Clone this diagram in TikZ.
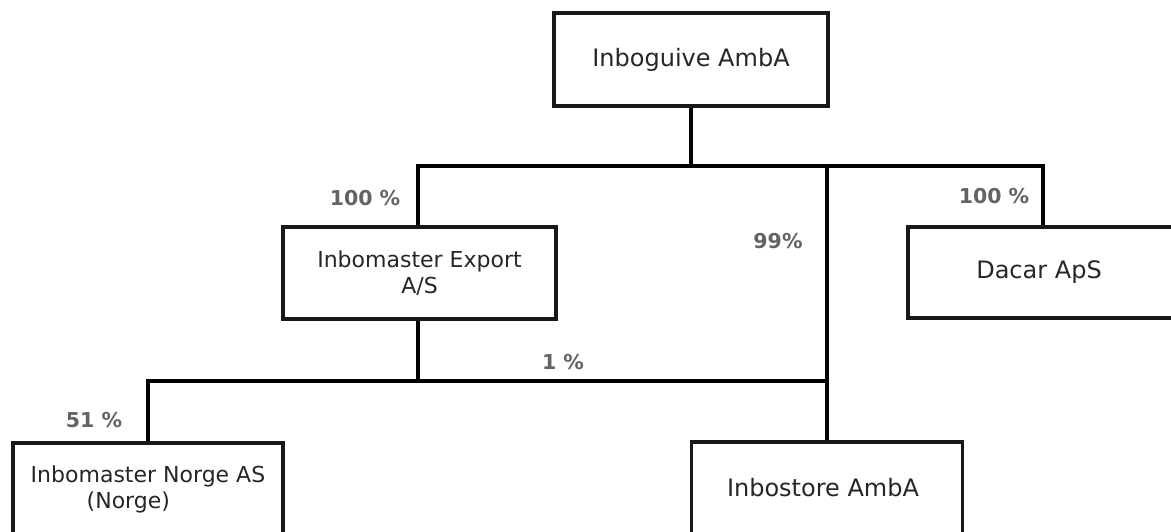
\documentclass[tikz,border=0pt]{standalone}
\usepackage{fontspec}
\setmainfont{DejaVu Sans}
\newfontfamily\lblfont{DejaVu Sans}
\definecolor{boxtext}{HTML}{262626}
\definecolor{lbltext}{HTML}{636363}
\begin{document}
\begin{tikzpicture}[x=1pt,y=-1pt,
  line width=3.2pt,
  orgbox/.style={draw=black!90, line width=3.2pt, rectangle, minimum width=#1, inner sep=0pt, text=boxtext, align=center},
  orgbox/.default=273pt,
  pct/.style={text=lbltext, font=\lblfont\bfseries\fontsize{20.5}{24}\selectfont, inner sep=0pt},
  big/.style={font=\fontsize{24}{28}\selectfont},
  small/.style={font=\fontsize{22}{26}\selectfont}]
\useasboundingbox (0,0) rectangle (1171,531);

\node[orgbox=274pt, minimum height=93pt, big] (top) at (691,59.5) {Inboguive AmbA};
\node[orgbox=273pt, minimum height=92pt, small] (exp) at (419.5,273) {Inbomaster Export\\A/S};
\node[orgbox=270pt, minimum height=91pt, big] (dac) at (1043,272.5) {\hspace*{-8pt}Dacar ApS};
\node[orgbox=270pt, minimum height=92pt, small, align=left] (nor) at (148,489) {Inbomaster Norge AS\\\hspace*{56pt}(Norge)};
\node[orgbox=271pt, minimum height=92pt, big] (ino) at (827,488) {\hspace*{-8pt}Inbostore AmbA};

\coordinate (bus) at (691,166);
\coordinate (bus2) at (418,381);

\draw (top.south) -- (bus);
\draw (exp.north -| bus2) |- (dac.north |- bus) -- (dac.north);
\draw (ino.north) -- (ino.north |- bus);
\draw (exp.south -| bus2) -- (bus2);
\draw (nor.north) |- (ino.north |- bus2);

\node[pct] (p1) at (365,198) {100 \%};
\node[pct] (p2) at (778,241) {99\%};
\node[pct] (p3) at (994,196) {100 \%};
\node[pct] (p4) at (563,362) {1 \%};
\node[pct] (p5) at (94,420) {51 \%};
\end{tikzpicture}
\end{document}
